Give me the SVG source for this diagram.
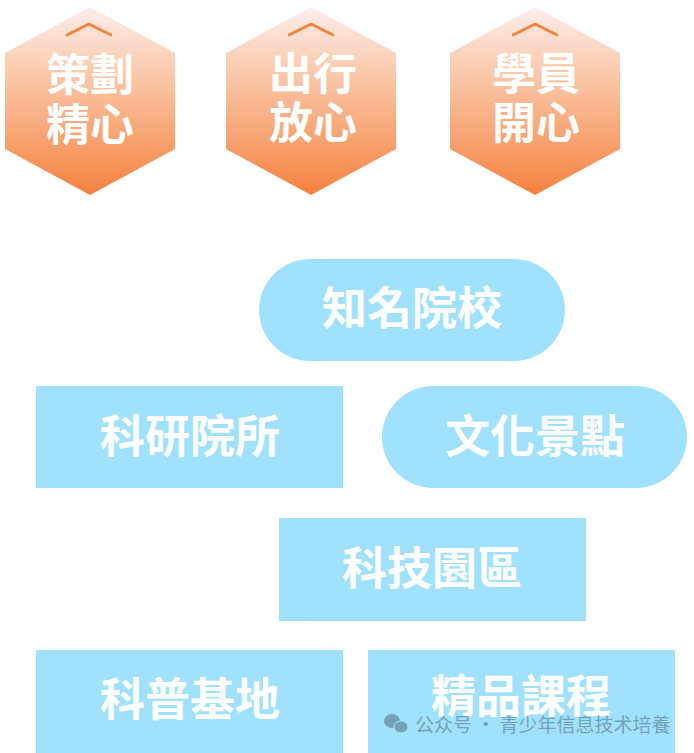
<svg xmlns="http://www.w3.org/2000/svg" width="694" height="753" viewBox="0 0 694 753">
<defs>
<linearGradient id="hexGrad" x1="0" y1="0" x2="0" y2="1">
<stop offset="0" stop-color="#fdeeee"/>
<stop offset="0.3" stop-color="#fbcfb4"/>
<stop offset="1" stop-color="#f5813f"/>
</linearGradient>
<style>
.hex{fill:url(#hexGrad);}
.chev{fill:none;stroke:#f5813a;stroke-width:2.6;stroke-linecap:round;stroke-linejoin:round;}
.ht{font-family:"Noto Sans CJK TC","Noto Sans CJK SC",sans-serif;font-weight:700;font-size:44px;fill:#ffffff;text-anchor:middle;}
.box{fill:#a0e2fd;}
.bt{font-family:"Noto Sans CJK TC","Noto Sans CJK SC",sans-serif;font-weight:700;font-size:45px;fill:#ffffff;text-anchor:middle;}
.wm{font-family:"Noto Sans CJK SC","Noto Sans CJK TC",sans-serif;font-size:19px;fill:#6f9cb0;}
</style>
</defs>
<g id="hex1">
<polygon class="hex" points="90,7 175,53 175,149 90,195 5,149 5,53"/>
<polyline class="chev" points="67,35 89,24 111,35"/>
<text class="ht" x="90" y="91">策劃</text>
<text class="ht" x="90" y="141">精心</text>
</g>
<g id="hex2">
<polygon class="hex" points="311,7 396,53 396,149 311,195 226,149 226,53"/>
<polyline class="chev" points="289,35 311,24 333,35"/>
<text class="ht" x="313" y="90">出行</text>
<text class="ht" x="313" y="139">放心</text>
</g>
<g id="hex3">
<polygon class="hex" points="535,7 620,53 620,149 535,195 450,149 450,53"/>
<polyline class="chev" points="513,35 535,24 557,35"/>
<text class="ht" x="536" y="90">學員</text>
<text class="ht" x="536" y="139">開心</text>
</g>
<g id="n_zhiming">
<rect class="box" x="259" y="259" width="306" height="102" rx="51"/>
<text class="bt" x="412" y="325">知名院校</text>
</g>
<g id="n_keyan">
<rect class="box" x="36" y="386" width="307" height="102"/>
<text class="bt" x="190" y="453">科研院所</text>
</g>
<g id="n_wenhua">
<rect class="box" x="382" y="386" width="305" height="102" rx="51"/>
<text class="bt" x="535" y="453">文化景點</text>
</g>
<g id="n_keji">
<rect class="box" x="279" y="518" width="307" height="103"/>
<text class="bt" x="432" y="585">科技園區</text>
</g>
<g id="n_kepu">
<rect class="box" x="36" y="650" width="307" height="103"/>
<text class="bt" x="190" y="716">科普基地</text>
</g>
<g id="n_jingpin">
<rect class="box" x="368" y="650" width="307" height="103"/>
<text class="bt" x="521" y="713">精品課程</text>
</g>
<g id="connectors"></g>
<g id="watermark" opacity="0.9">
<ellipse cx="392" cy="721" rx="8" ry="7" fill="#6f9cb0"/>
<ellipse cx="401" cy="727" rx="7" ry="6" fill="#6f9cb0" stroke="#a0e2fd" stroke-width="1"/>
<text class="wm" x="415" y="732">公众号 · 青少年信息技术培養</text>
</g>
</svg>
